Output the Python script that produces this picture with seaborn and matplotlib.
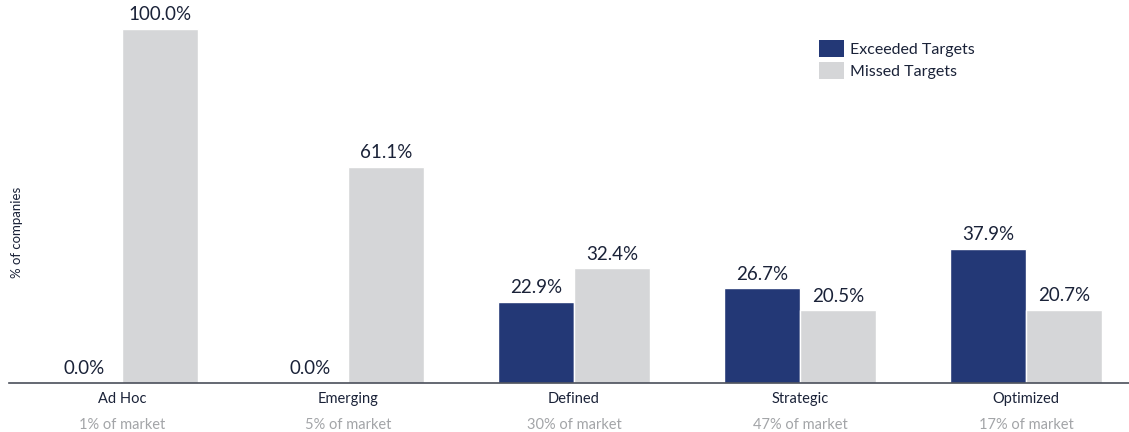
import matplotlib
matplotlib.use("Agg")
import matplotlib.pyplot as plt
import seaborn as sns
import pandas as pd
from matplotlib.patches import Patch

stages = ["Ad Hoc", "Emerging", "Defined", "Strategic", "Optimized"]
market_share = ["1% of market", "5% of market", "30% of market", "47% of market", "17% of market"]
exceeded = [0.0, 0.0, 22.9, 26.7, 37.9]
missed = [100.0, 61.1, 32.4, 20.5, 20.7]
series_names = ["Exceeded Targets", "Missed Targets"]
colors = ["#233876", "#d5d6d8"]

df = pd.DataFrame({
    "stage": stages * 2,
    "value": exceeded + missed,
    "series": [series_names[0]] * len(stages) + [series_names[1]] * len(stages),
})

sns.set_theme(style="white")
plt.rcParams["font.family"] = ["Lato", "DejaVu Sans"]

W, H = 1129, 432
fig = plt.figure(figsize=(W / 100, H / 100), dpi=100)
ax_left = 9 / W
ax_bottom = 1 - 383 / H
ax = fig.add_axes([ax_left, ax_bottom, 1 - ax_left, 1 - ax_bottom])

sns.barplot(data=df, x="stage", y="value", hue="series", order=stages,
            hue_order=series_names, palette=colors, saturation=1,
            width=0.67, ax=ax, legend=False)

text_color = "#1a2238"
for cont in ax.containers:
    ax.bar_label(cont, fmt="%.1f%%", padding=4, fontsize=13.5,
                 color=text_color)

ax.set_xlim(-0.5, -0.5 + (W - 9) / 226)
ax.set_ylim(0, 100 * 383 / 354)
ax.set_yticks([])
ax.set_xticks(range(len(stages)))
ax.set_xticklabels([])
ax.tick_params(axis="x", length=0)
ax.set_xlabel("")
ax.set_ylabel("")
for s in ["top", "right", "left"]:
    ax.spines[s].set_visible(False)
ax.spines["bottom"].set_color("#4a4f5a")
ax.spines["bottom"].set_linewidth(1.2)

for i, (st, ms) in enumerate(zip(stages, market_share)):
    ax.annotate(st, xy=(i, 0), xycoords=("data", "axes fraction"),
                xytext=(0, -6.5), textcoords="offset points",
                ha="center", va="top", fontsize=10.5, color=text_color)
    ax.annotate(ms, xy=(i, 0), xycoords=("data", "axes fraction"),
                xytext=(0, -25), textcoords="offset points",
                ha="center", va="top", fontsize=10.5, color="#a3a5a8")

fig.text(17 / W, 1 - 232 / H, "% of companies", rotation=90, ha="center",
         va="center", fontsize=9.5, color=text_color)

handles = [Patch(facecolor=c, edgecolor="none") for c in colors]
leg = fig.legend(handles, series_names, loc="upper left",
                 bbox_to_anchor=(806 / W, 1 - 27 / H), frameon=False,
                 prop={"size": 11.5},
                 handlelength=1.55, handleheight=1.3,
                 labelspacing=0.3, handletextpad=0.4, borderpad=0.3)
for t in leg.get_texts():
    t.set_color(text_color)

fig.savefig("out.png", dpi=100)
